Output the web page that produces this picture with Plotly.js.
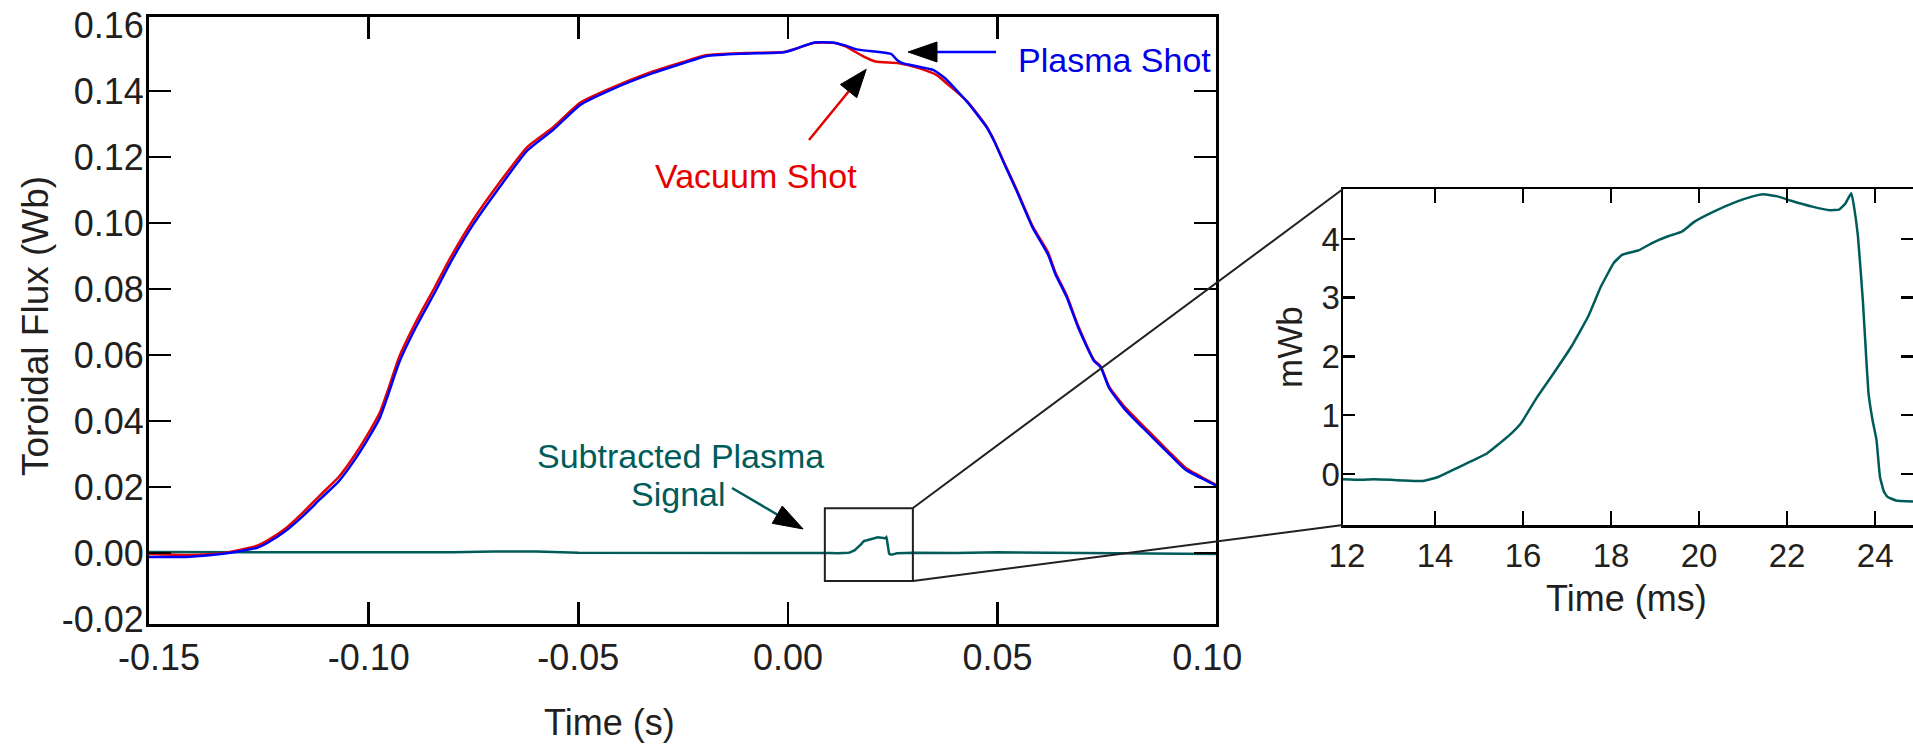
<!DOCTYPE html>
<html><head><meta charset="utf-8">
<script src="https://cdn.plot.ly/plotly-3.0.1.min.js"></script>
<style>html,body{margin:0;padding:0;background:#fff;}#chart{width:1913px;height:744px;}</style>
</head><body><div id="chart"></div>
<script>
// ---------- data ----------
const vacuumTime = [-0.1524,-0.1426,-0.1347,-0.1266,-0.1240,-0.1200,-0.1155,-0.1116,-0.1071,-0.1033,-0.0996,-0.0973,-0.0954,-0.0927,-0.0885,-0.0842,-0.0804,-0.0751,-0.0687,-0.0622,-0.0559,-0.0496,-0.0421,-0.0324,-0.0250,-0.0193,-0.0103,-0.0010,0.0017,0.0063,0.0109,0.0136,0.0181,0.0209,0.0264,0.0310,0.0355,0.0383,0.0428,0.0474,0.0491,0.0520,0.0546,0.0584,0.0620,0.0638,0.0665,0.0693,0.0730,0.0746,0.0766,0.0803,0.0857,0.0912,0.0949,0.1013,0.1021];
const vacuumFlux = [-0.0003,-0.0006,0.0000,0.0022,0.0039,0.0073,0.0125,0.0175,0.0231,0.0297,0.0373,0.0427,0.0494,0.0595,0.0706,0.0806,0.0897,0.1009,0.1124,0.1230,0.1291,0.1364,0.1409,0.1458,0.1488,0.1509,0.1515,0.1518,0.1527,0.1546,0.1546,0.1536,0.1504,0.1489,0.1484,0.1470,0.1448,0.1418,0.1368,0.1292,0.1252,0.1171,0.1100,0.0989,0.0912,0.0850,0.0780,0.0686,0.0585,0.0565,0.0504,0.0443,0.0373,0.0303,0.0258,0.0212,0.0206];

const plasmaTime = [-0.1524,-0.1426,-0.1347,-0.1266,-0.1240,-0.1200,-0.1155,-0.1116,-0.1071,-0.1033,-0.0996,-0.0973,-0.0954,-0.0927,-0.0885,-0.0842,-0.0804,-0.0751,-0.0687,-0.0622,-0.0559,-0.0496,-0.0421,-0.0324,-0.0250,-0.0193,-0.0103,-0.0010,0.0017,0.0063,0.0109,0.0136,0.0164,0.0218,0.0246,0.0260,0.0273,0.0310,0.0346,0.0374,0.0428,0.0474,0.0491,0.0520,0.0546,0.0584,0.0620,0.0638,0.0665,0.0693,0.0730,0.0746,0.0766,0.0803,0.0857,0.0912,0.0949,0.1013,0.1021];
const plasmaFlux = [-0.0012,-0.0011,-0.0002,0.0016,0.0032,0.0065,0.0114,0.0163,0.0218,0.0283,0.0358,0.0411,0.0478,0.0578,0.0690,0.0790,0.0882,0.0995,0.1110,0.1219,0.1283,0.1357,0.1404,0.1453,0.1484,0.1506,0.1513,0.1517,0.1527,0.1547,0.1546,0.1538,0.1526,0.1518,0.1512,0.1494,0.1484,0.1474,0.1464,0.1439,0.1366,0.1290,0.1250,0.1168,0.1096,0.0985,0.0905,0.0845,0.0775,0.0681,0.0582,0.0563,0.0500,0.0436,0.0366,0.0297,0.0252,0.0210,0.0204];

// subtracted signal outside the zoomed window (s, Wb)
const subTimeLeft = [-0.1524,-0.14,-0.13,-0.12,-0.11,-0.10,-0.09,-0.08,-0.07,-0.06,-0.05,-0.04,-0.03,-0.02,-0.01,0.0,0.005,0.010];
const subFluxLeft = [0.0003,0.0003,0.0002,0.0003,0.0001,0.0001,0.0002,0.0002,0.0005,0.0005,0.0001,0.0001,0.0000,0.0001,0.0002,0.0001,0.0001,0.0000];
const subTimeRight = [0.026,0.03,0.04,0.05,0.06,0.07,0.08,0.09,0.1021];
const subFluxRight = [-0.0001,0.0001,0.0000,0.0002,0.0001,-0.0002,-0.0003,-0.0002,-0.0003];

// zoomed (inset) subtracted signal (ms, mWb)
const insetTimeMs = [11.91,12.3,12.6,13.0,13.27,13.7,14.04,14.41,14.8,15.18,15.66,15.95,16.33,16.7,17.1,17.48,17.77,18.06,18.25,18.64,18.93,19.31,19.6,19.89,20.32,20.84,21.2,21.45,21.8,22.09,22.57,22.97,23.18,23.32,23.46,23.52,23.61,23.72,23.8,23.85,23.94,24.03,24.11,24.2,24.28,24.47,24.86];
const insetFluxMWb = [-0.09,-0.1,-0.09,-0.1,-0.11,-0.12,-0.06,0.07,0.21,0.35,0.64,0.86,1.32,1.72,2.17,2.68,3.19,3.59,3.73,3.81,3.93,4.05,4.12,4.29,4.46,4.63,4.72,4.76,4.72,4.65,4.55,4.49,4.5,4.6,4.78,4.55,4.04,2.96,1.94,1.37,0.92,0.58,-0.05,-0.3,-0.39,-0.45,-0.47];

// ticks
const mainXTickVals = [-0.15,-0.10,-0.05,0.00,0.05,0.10];
const mainXTickText = ['-0.15','-0.10','-0.05','0.00','0.05','0.10'];
const mainXTickMarks = [-0.10,-0.05,0.00,0.05];
const mainYTickVals = [-0.02,0.00,0.02,0.04,0.06,0.08,0.10,0.12,0.14,0.16];
const mainYTickText = ['-0.02','0.00','0.02','0.04','0.06','0.08','0.10','0.12','0.14','0.16'];
const mainYTickMarks = [0.00,0.02,0.04,0.06,0.08,0.10,0.12,0.14];
const insetXTickVals = [12,14,16,18,20,22,24];
const insetXTickMarks = [14,16,18,20,22,24];
const insetYTickVals = [0,1,2,3,4];

// ---------- drawing ----------
const W = 1913, H = 744;
const px = x => x / W;
const py = y => 1 - y / H;
const pathPx = pts => 'M' + pts.map(p => px(p[0]).toFixed(5) + ',' + py(p[1]).toFixed(5)).join(' L') + ' Z';

const FONT = '"Liberation Sans", Arial, Helvetica, sans-serif';
const INK = '#231f20';
const RED = '#e60000', BLUE = '#0000ff', TEAL = '#005c5a';

const subTimeMain = subTimeLeft.concat(insetTimeMs.map(t => t / 1000), subTimeRight);
const subFluxMain = subFluxLeft.concat(insetFluxMWb.map(v => v / 1000), subFluxRight);

const traces = [
  {x: subTimeMain, y: subFluxMain, mode: 'lines', line: {color: TEAL, width: 2.5}, xaxis: 'x', yaxis: 'y'},
  {x: vacuumTime, y: vacuumFlux, mode: 'lines', line: {color: RED, width: 2.5, shape: 'spline', smoothing: 0.5}, xaxis: 'x', yaxis: 'y'},
  {x: plasmaTime, y: plasmaFlux, mode: 'lines', line: {color: BLUE, width: 2.5, shape: 'spline', smoothing: 0.5}, xaxis: 'x', yaxis: 'y'},
  {x: insetTimeMs, y: insetFluxMWb, mode: 'lines', line: {color: TEAL, width: 2.5, shape: 'spline', smoothing: 0.3}, xaxis: 'x2', yaxis: 'y2'},
  {x: [null], y: [null], mode: 'lines', xaxis: 'x3', yaxis: 'y', hoverinfo: 'skip'},
  {x: [null], y: [null], mode: 'lines', xaxis: 'x', yaxis: 'y3', hoverinfo: 'skip'},
  {x: [null], y: [null], mode: 'lines', xaxis: 'x4', yaxis: 'y2', hoverinfo: 'skip'}
];

const mainXRange = [-0.1524, 0.1021];
const mainYRange = [-0.0215, 0.1624];
const insetXRange = [11.91, 24.86];
const insetYRange = [-0.868, 4.85];

const tickFont = {family: FONT, size: 36, color: INK};
const insetTickFont = {family: FONT, size: 33, color: INK};

const layout = {
  width: W, height: H,
  margin: {l: 0, r: 0, t: 0, b: 0, pad: 0},
  paper_bgcolor: '#fff', plot_bgcolor: 'rgba(0,0,0,0)',
  showlegend: false,
  font: {family: FONT, color: INK},
  xaxis: {domain: [px(149), px(1216)], range: mainXRange, anchor: 'y',
    tickmode: 'array', tickvals: mainXTickVals, ticktext: mainXTickText, ticks: '',
    showline: true, linewidth: 3, linecolor: '#000', mirror: true,
    showgrid: false, zeroline: false, tickfont: tickFont, ticklabelstandoff: 0, automargin: false},
  yaxis: {domain: [py(624), py(17)], range: mainYRange, anchor: 'x',
    tickmode: 'array', tickvals: mainYTickVals, ticktext: mainYTickText, ticks: '',
    showline: true, linewidth: 3, linecolor: '#000', mirror: true,
    showgrid: false, zeroline: false, tickfont: tickFont, ticklabelstandoff: -5, automargin: false},
  xaxis3: {overlaying: 'x', anchor: 'y', range: mainXRange,
    tickmode: 'array', tickvals: mainXTickMarks, ticks: 'inside', ticklen: 22, tickwidth: 2.5, tickcolor: '#000',
    mirror: 'ticks', showline: false, showticklabels: false, showgrid: false, zeroline: false},
  yaxis3: {overlaying: 'y', anchor: 'x', range: mainYRange,
    tickmode: 'array', tickvals: mainYTickMarks, ticks: 'inside', ticklen: 22, tickwidth: 2.5, tickcolor: '#000',
    mirror: 'ticks', showline: false, showticklabels: false, showgrid: false, zeroline: false},
  xaxis2: {domain: [px(1343), 1], range: insetXRange, anchor: 'y2',
    tickmode: 'array', tickvals: insetXTickVals, ticks: '',
    showline: true, linewidth: 2.5, linecolor: '#000', mirror: true,
    showgrid: false, zeroline: false, tickfont: insetTickFont, ticklabelstandoff: 0, automargin: false},
  yaxis2: {domain: [py(525), py(189)], range: insetYRange, anchor: 'x2',
    tickmode: 'array', tickvals: insetYTickVals, ticks: 'inside', ticklen: 12, tickwidth: 2.5, tickcolor: '#000',
    showline: true, linewidth: 2.5, linecolor: '#000', mirror: 'ticks',
    showgrid: false, zeroline: false, tickfont: insetTickFont, ticklabelstandoff: -6, automargin: false},
  xaxis4: {overlaying: 'x2', anchor: 'y2', range: insetXRange,
    tickmode: 'array', tickvals: insetXTickMarks, ticks: 'inside', ticklen: 14, tickwidth: 2.5, tickcolor: '#000',
    mirror: 'ticks', showline: false, showticklabels: false, showgrid: false, zeroline: false},
  shapes: [
    {type: 'rect', xref: 'x', yref: 'y', x0: 0.0088, x1: 0.0298, y0: -0.0085, y1: 0.0136, line: {color: INK, width: 2}},
    {type: 'line', xref: 'paper', yref: 'paper', x0: px(913), y0: py(508), x1: px(1343), y1: py(189), line: {color: INK, width: 2}},
    {type: 'line', xref: 'paper', yref: 'paper', x0: px(913), y0: py(581), x1: px(1343), y1: py(525), line: {color: INK, width: 2}},
    {type: 'line', xref: 'paper', yref: 'paper', x0: px(809), y0: py(140), x1: px(849), y1: py(91), line: {color: RED, width: 2.5}},
    {type: 'path', xref: 'paper', yref: 'paper', path: pathPx([[866.2,69.3],[856.8,97.7],[840.4,84.5]]), fillcolor: '#000', line: {color: '#000', width: 1}},
    {type: 'line', xref: 'paper', yref: 'paper', x0: px(996), y0: py(52), x1: px(936), y1: py(52), line: {color: BLUE, width: 2.5}},
    {type: 'path', xref: 'paper', yref: 'paper', path: pathPx([[908,52],[937,42],[937,62]]), fillcolor: '#000', line: {color: '#000', width: 1}},
    {type: 'line', xref: 'paper', yref: 'paper', x0: px(732), y0: py(488), x1: px(778), y1: py(515), line: {color: TEAL, width: 2.5}},
    {type: 'path', xref: 'paper', yref: 'paper', path: pathPx([[803.1,529],[772.2,523.3],[782.3,506.0]]), fillcolor: '#000', line: {color: '#000', width: 1}}
  ],
  annotations: [
    {text: 'Plasma Shot', xref: 'paper', yref: 'paper', x: px(1114), y: py(60), xanchor: 'center', yanchor: 'middle', showarrow: false, font: {family: FONT, size: 34, color: '#0000e6'}},
    {text: 'Vacuum Shot', xref: 'paper', yref: 'paper', x: px(756), y: py(176), xanchor: 'center', yanchor: 'middle', showarrow: false, font: {family: FONT, size: 34, color: RED}},
    {text: 'Subtracted Plasma', xref: 'paper', yref: 'paper', x: px(680), y: py(456), xanchor: 'center', yanchor: 'middle', showarrow: false, font: {family: FONT, size: 34, color: TEAL}},
    {text: 'Signal', xref: 'paper', yref: 'paper', x: px(678), y: py(494), xanchor: 'center', yanchor: 'middle', showarrow: false, font: {family: FONT, size: 34, color: TEAL}},
    {text: 'Toroidal Flux (Wb)', xref: 'paper', yref: 'paper', x: px(35), y: py(326), xanchor: 'center', yanchor: 'middle', textangle: -90, showarrow: false, font: {family: FONT, size: 37, color: INK}},
    {text: 'Time (s)', xref: 'paper', yref: 'paper', x: px(609), y: py(722), xanchor: 'center', yanchor: 'middle', showarrow: false, font: {family: FONT, size: 36, color: INK}},
    {text: 'Time (ms)', xref: 'paper', yref: 'paper', x: px(1626), y: py(598), xanchor: 'center', yanchor: 'middle', showarrow: false, font: {family: FONT, size: 36, color: INK}},
    {text: 'mWb', xref: 'paper', yref: 'paper', x: px(1290), y: py(347), xanchor: 'center', yanchor: 'middle', textangle: -90, showarrow: false, font: {family: FONT, size: 35, color: INK}}
  ]
};

Plotly.newPlot('chart', traces, layout, {displayModeBar: false, staticPlot: true});
</script>
</body></html>
